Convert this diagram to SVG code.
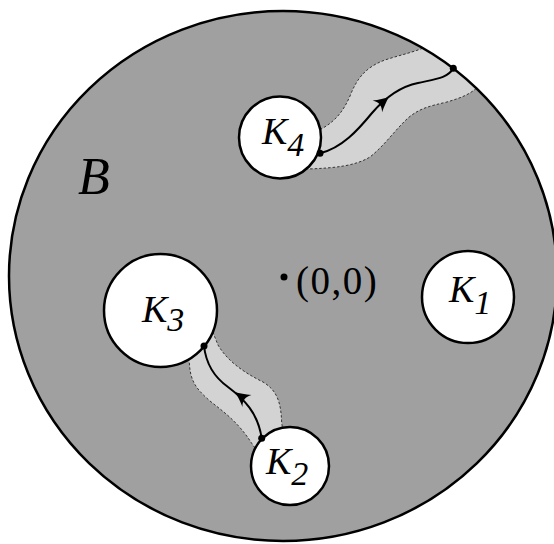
<svg xmlns="http://www.w3.org/2000/svg" xmlns:xlink="http://www.w3.org/1999/xlink" width="554" height="544" viewBox="0 0 554 544">
<style>
.region{fill:#a0a0a0;stroke:none}
.rim{fill:none;stroke:#000;stroke-width:2.5}
.hole{fill:#fff;stroke:#000;stroke-width:2.5}
.band{fill:#d3d3d3;stroke:#333;stroke-width:1;stroke-dasharray:2.5 2}
.curve{fill:none;stroke:#000;stroke-width:2}
.dot{fill:#000}
.lbl{font-family:"Liberation Serif","Times New Roman",serif;font-style:italic;fill:#000}
.k{font-size:38px}
.sub{font-size:34px}
.plain{font-family:"Liberation Serif","Times New Roman",serif;fill:#000;font-size:39px;letter-spacing:1.5px}
</style>
<defs>
<clipPath id="inB"><ellipse cx="283" cy="276" rx="274" ry="265"/></clipPath>
<path id="ah" d="M0,0 C-4,-1.3 -10,-4.5 -15,-7.5 C-11,-2.5 -11,2.5 -15,7.5 C-10,4.5 -4,1.3 0,0 Z"/>
</defs>
<g id="B">
<ellipse class="region" cx="283" cy="276" rx="274" ry="265"/>
</g>
<g id="bands" clip-path="url(#inB)">
<path class="band" d="M300,140 L323,128 C335,121 343,112 350,96 C357,78 366,67 385,60 C400,55 415,52 428,46 L440,30 L510,60 L480,85 C470,95 460,98 447,102 C430,106 420,108 408,118 C395,130 385,145 370,157 C355,166 335,168 308,169 L290,160 Z"/>
<path class="band" d="M185,350 L189.3,361.7 C190,380 195,388 210,401 C225,413 238,422 251.7,443.3 L260,455 L285,440 L281.7,423.3 C281,400 276,390 263,382 C245,373 228,362 218,345 L210,325 Z"/>
</g>
<g id="Brim">
<ellipse class="rim" cx="283" cy="276" rx="274" ry="265"/>
<text class="lbl" x="78" y="194" font-size="52">B</text>
</g>
<g id="K1">
<circle class="hole" cx="468" cy="297" r="46"/>
<text class="lbl k" x="449" y="302">K<tspan class="sub" dy="12">1</tspan></text>
</g>
<g id="K2">
<circle class="hole" cx="290" cy="466" r="39"/>
<text class="lbl k" x="266" y="474">K<tspan class="sub" dy="11">2</tspan></text>
</g>
<g id="K3">
<circle class="hole" cx="160.5" cy="310.5" r="56.5"/>
<text class="lbl k" x="142" y="322">K<tspan class="sub" dy="9">3</tspan></text>
</g>
<g id="K4">
<circle class="hole" cx="280" cy="137.5" r="41"/>
<text class="lbl k" x="262" y="144">K<tspan class="sub" dy="12">4</tspan></text>
</g>
<g id="origin">
<circle class="dot" cx="284" cy="277" r="3.5"/>
<text class="plain" x="296" y="294">(0,0)</text>
</g>
<g id="connectors">
<path class="curve" d="M320,153.3 C342,148 358,130 372,113 C384,99 398,87 418,83 C436,79 448,78 453.3,68.3"/>
<use xlink:href="#ah" transform="translate(389,97) rotate(-39)"/>
<path class="curve" d="M204,346 C206,364 214,377 228,387 C244,399 258,413 261.7,438.3"/>
<use xlink:href="#ah" transform="translate(235,392) rotate(-143)"/>
<circle class="dot" cx="320" cy="153.3" r="3.5"/>
<circle class="dot" cx="453.3" cy="68.3" r="3.5"/>
<circle class="dot" cx="204" cy="346" r="3.5"/>
<circle class="dot" cx="261.7" cy="438.3" r="3.5"/>
</g>
</svg>
